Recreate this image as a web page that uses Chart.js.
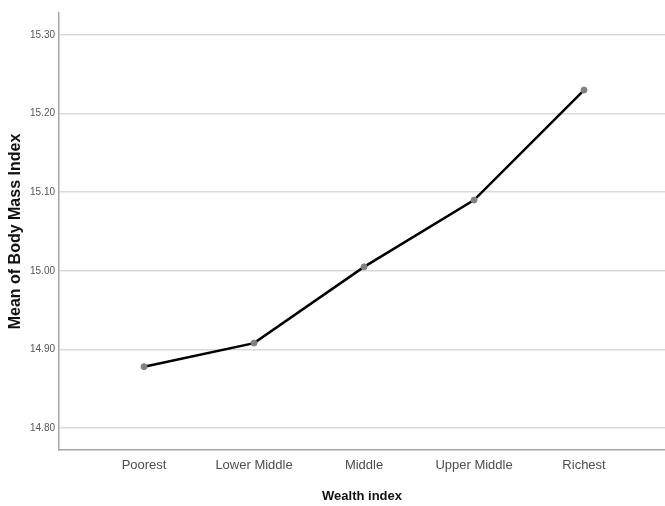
<!DOCTYPE html>
<html>
<head>
<meta charset="utf-8">
<script src="https://cdn.jsdelivr.net/npm/chart.js@4/dist/chart.umd.min.js"></script>
<style>
  html, body { margin: 0; padding: 0; background: #fff; overflow: hidden; }
  #wrap { width: 665px; height: 506px; position: relative; }
</style>
</head>
<body>
<div id="wrap"><canvas id="bmiChart"></canvas></div>
<script>
const categorias = ['Poorest', 'Lower Middle', 'Middle', 'Upper Middle', 'Richest'];
const mediaIMC = [14.878, 14.908, 15.005, 15.090, 15.230];
const ticksY = [14.80, 14.90, 15.00, 15.10, 15.20, 15.30];

const puntos = mediaIMC.map((v, i) => ({ x: i, y: v }));
const ctx = document.getElementById('bmiChart').getContext('2d');

new Chart(ctx, {
    type: 'line',
    data: {
        datasets: [{
            data: puntos,
            borderColor: '#000000',
            borderWidth: 2.5,
            tension: 0,
            pointRadius: 3,
            pointBackgroundColor: '#808080',
            pointBorderColor: '#808080',
            pointBorderWidth: 1
        }]
    },
    options: {
        responsive: true,
        maintainAspectRatio: false,
        animation: false,
        layout: { autoPadding: false, padding: { top: 13, right: 0, left: 0, bottom: 0 } },
        plugins: {
            legend: { display: false },
            tooltip: { enabled: false }
        },
        scales: {
            x: {
                type: 'linear',
                min: -0.773,
                max: 4.736,
                afterBuildTicks: scale => { scale.ticks = categorias.map((c, i) => ({ value: i })); },
                afterFit: scale => {
                    scale.height = 56;
                    scale.paddingLeft = 0;
                    scale.paddingRight = 0;
                },
                grid: { display: false, drawTicks: false },
                border: { display: true, color: '#a6a6a6', width: 1.5 },
                ticks: {
                    padding: 8,
                    color: '#4d4d4d',
                    font: { family: 'Liberation Sans', size: 13 },
                    callback: v => categorias[v]
                },
                title: {
                    display: true,
                    text: 'Wealth index',
                    color: '#111111',
                    padding: { top: 0, bottom: 2 },
                    font: { family: 'Liberation Sans', size: 13, weight: 'bold' }
                }
            },
            y: {
                min: 14.772,
                max: 15.328,
                afterBuildTicks: scale => { scale.ticks = ticksY.map(v => ({ value: v })); },
                afterFit: scale => { scale.width = 59; },
                grid: { color: '#d9d9d9', lineWidth: 1.5, drawTicks: false },
                border: { display: true, color: '#a6a6a6', width: 1.5 },
                ticks: {
                    padding: 4,
                    color: '#555555',
                    font: { family: 'Liberation Sans', size: 10 },
                    callback: v => Number(v).toFixed(2)
                },
                title: {
                    display: true,
                    text: 'Mean of Body Mass Index',
                    color: '#111111',
                    padding: { top: 6, bottom: 0 },
                    font: { family: 'Liberation Sans', size: 16, weight: 'bold' }
                }
            }
        }
    }
});
</script>
</body>
</html>
